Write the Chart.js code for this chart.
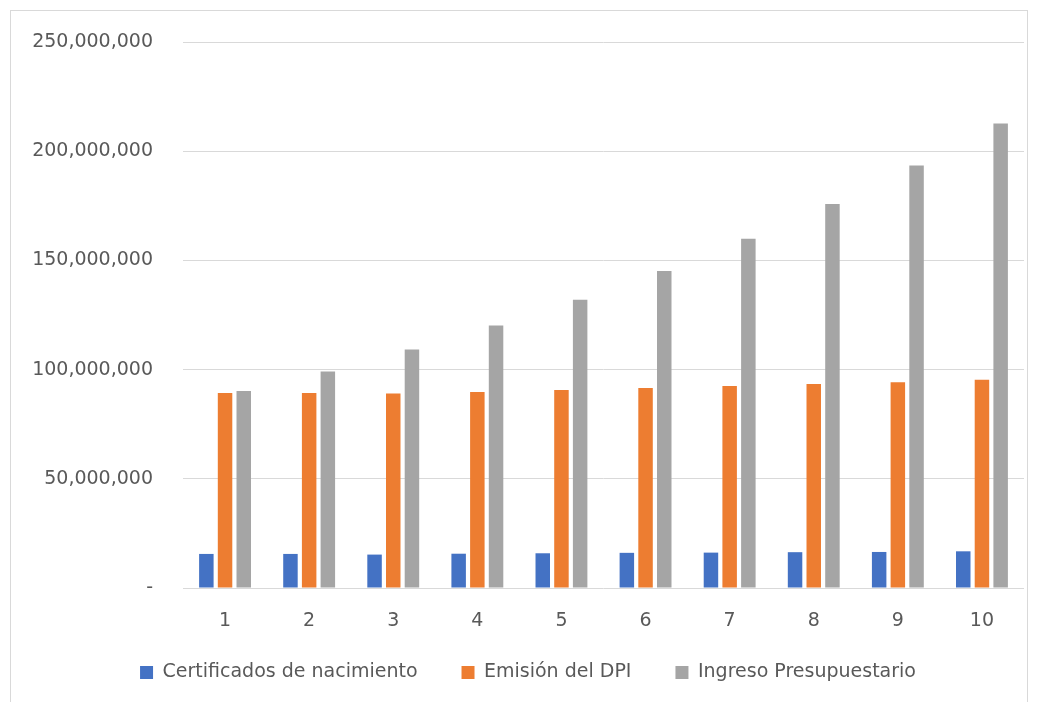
<!DOCTYPE html>
<html>
<head>
<meta charset="utf-8">
<script src="https://cdn.jsdelivr.net/npm/chart.js@4.4.1/dist/chart.umd.min.js"></script>
<style>
  html, body { margin: 0; padding: 0; background: #fff; overflow: hidden; }
  #wrap { position: relative; width: 1039px; height: 702px; }
  #frame { position: absolute; left: 10px; top: 10px; width: 1018px; height: 720px; border: 1px solid #d9d9d9; box-sizing: border-box; }
  canvas { position: absolute; left: 0; top: 0; }
</style>
</head>
<body>
<div id="wrap">
  <div id="frame"></div>
  <canvas id="chart" width="1039" height="702"></canvas>
</div>
<script>
const categories = ['1', '2', '3', '4', '5', '6', '7', '8', '9', '10'];
const certificados = [15.6, 15.6, 15.3, 15.7, 15.9, 16.1, 16.2, 16.4, 16.5, 16.8].map(v => v * 1e6);
const emisionDPI = [89.3, 89.3, 89.0, 89.8, 90.7, 91.6, 92.5, 93.4, 94.2, 95.3].map(v => v * 1e6);
const ingreso = [90.2, 99.1, 109.2, 120.2, 132.0, 145.1, 159.9, 175.8, 193.4, 212.7].map(v => v * 1e6);
const yTicks = [0, 50000000, 100000000, 150000000, 200000000, 250000000];

const FONT = '"DejaVu Sans", "Open Sans", sans-serif';
const TEXT = '#595959';
const LEGEND_TRIM = 30;

// the legend padding is wide (item spacing), so trim its box height and draw it from a raised top
const legendTrim = {
  id: 'legendTrim',
  beforeLayout(chart) {
    const lg = chart.legend;
    if (!lg || lg._trimmed) return;
    const fit = lg.fit;
    lg.fit = function () { fit.call(this); this.height -= LEGEND_TRIM; };
    const draw = lg.draw;
    lg.draw = function (area) {
      const top = this.top;
      this.top = top - LEGEND_TRIM;
      draw.call(this, area);
      this.top = top;
    };
    lg._trimmed = true;
  }
};

const ctx = document.getElementById('chart').getContext('2d');
new Chart(ctx, {
  type: 'bar',
  data: {
    labels: categories,
    datasets: [
      { label: 'Certificados de nacimiento', data: certificados, backgroundColor: '#4472C4' },
      { label: 'Emisión del DPI', data: emisionDPI, backgroundColor: '#ED7D31' },
      { label: 'Ingreso Presupuestario', data: ingreso, backgroundColor: '#A5A5A5' }
    ]
  },
  plugins: [legendTrim],
  options: {
    responsive: false,
    animation: false,
    categoryPercentage: 0.667,
    barPercentage: 0.775,
    layout: { padding: { top: 42, right: 15, left: 32, bottom: 10 } },
    plugins: {
      tooltip: { enabled: false },
      legend: {
        position: 'bottom',
        labels: {
          color: TEXT,
          font: { family: FONT, size: 19 },
          boxWidth: 13,
          boxHeight: 13,
          padding: 44
        }
      }
    },
    scales: {
      x: {
        grid: { display: false, drawTicks: false },
        border: { display: false },
        ticks: { color: TEXT, font: { family: FONT, size: 19 }, padding: 22 },
        afterFit: s => { s.height = 61; }
      },
      y: {
        min: 0,
        max: 250000000,
        afterBuildTicks: s => { s.ticks = yTicks.map(v => ({ value: v })); },
        grid: { color: '#d9d9d9', lineWidth: 1, drawTicks: false },
        border: { display: false },
        ticks: {
          color: TEXT,
          font: { family: FONT, size: 19 },
          padding: 30,
          callback: v => v === 0 ? '-' : v.toLocaleString('en-US')
        },
        afterFit: s => { s.width = 151; }
      }
    }
  }
});
</script>
</body>
</html>
